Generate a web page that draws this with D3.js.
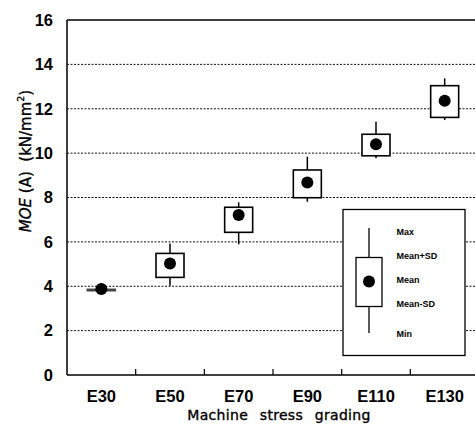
<!DOCTYPE html>
<html>
<head>
<meta charset="utf-8">
<script src="https://cdn.jsdelivr.net/npm/d3@7"></script>
<style>
  html, body { margin: 0; padding: 0; background: #fff; }
  svg { display: block; }
</style>
</head>
<body>
<svg id="chart" width="475" height="435"></svg>
<script>
// MOE (A) by machine stress grade: min, mean-SD, mean, mean+SD, max
const categories = ["E30", "E50", "E70", "E90", "E110", "E130"];
const minVals    = [3.78, 4.02, 5.89, 7.81, 9.77, 11.49];
const sdLowVals  = [3.80, 4.40, 6.43, 7.99, 9.88, 11.61];
const meanVals   = [3.88, 5.03, 7.21, 8.68, 10.40, 12.36];
const sdHighVals = [3.86, 5.48, 7.56, 9.24, 10.85, 13.04];
const maxVals    = [3.90, 5.93, 7.78, 9.84, 11.41, 13.37];
const yTicks     = [0, 2, 4, 6, 8, 10, 12, 14, 16];
const legendLabels = ["Max", "Mean+SD", "Mean", "Mean-SD", "Min"];

const rows = categories.map((c, i) => ({
  cat: c, min: minVals[i], lo: sdLowVals[i], mean: meanVals[i],
  hi: sdHighVals[i], max: maxVals[i]
}));

const svg = d3.select("#chart");
const plotL = 67, plotR = 479, plotT = 20, plotB = 375;
const tickFont = "'Liberation Sans', Arial, sans-serif";
const titleFont = "'DejaVu Sans', sans-serif";

const x = d3.scaleBand().domain(categories).range([plotL, plotR]);
const y = d3.scaleLinear().domain([0, 16]).range([plotB, plotT]);

// dashed grid lines
svg.append("g")
  .selectAll("line")
  .data(yTicks.filter(t => t > 0 && t < 16))
  .join("line")
  .attr("x1", plotL).attr("x2", 475)
  .attr("y1", d => y(d)).attr("y2", d => y(d))
  .attr("stroke", "#111")
  .attr("stroke-width", 1)
  .attr("stroke-dasharray", "2,1.5");

// y axis labels
const yAxis = svg.append("g")
  .attr("transform", `translate(${plotL},0)`)
  .call(d3.axisLeft(y).tickValues(yTicks).tickSize(0).tickPadding(14).tickFormat(d3.format("d")));
yAxis.select(".domain").remove();
yAxis.selectAll("text")
  .attr("font-family", tickFont)
  .attr("font-weight", "bold")
  .attr("font-size", 16.5)
  .attr("fill", "#000");

// x axis labels
const xAxis = svg.append("g")
  .attr("transform", `translate(0,${plotB})`)
  .call(d3.axisBottom(x).tickSize(0).tickPadding(15));
xAxis.select(".domain").remove();
xAxis.selectAll("text")
  .attr("font-family", tickFont)
  .attr("font-weight", "bold")
  .attr("font-size", 16.5)
  .attr("fill", "#000");

// frame: left, bottom and top lines
const frame = svg.append("g").attr("stroke", "#000").attr("stroke-width", 1.5);
frame.append("line").attr("x1", plotL).attr("x2", plotL).attr("y1", plotT).attr("y2", plotB);
frame.append("line").attr("x1", plotL).attr("x2", 475).attr("y1", plotB).attr("y2", plotB);
frame.append("line").attr("x1", plotL).attr("x2", 475).attr("y1", plotT).attr("y2", plotT);

// inner ticks at the category boundaries
svg.append("g")
  .selectAll("line")
  .data(categories.slice(1))
  .join("line")
  .attr("x1", d => x(d)).attr("x2", d => x(d))
  .attr("y1", plotB).attr("y2", plotB - 6)
  .attr("stroke", "#000").attr("stroke-width", 1.2);

// box plots
const boxW = 28;
const g = svg.append("g");
const item = g.selectAll("g.item").data(rows).join("g").attr("class", "item");
item.append("line")
  .attr("x1", d => x(d.cat) + x.bandwidth() / 2).attr("x2", d => x(d.cat) + x.bandwidth() / 2)
  .attr("y1", d => y(d.max)).attr("y2", d => y(d.min))
  .attr("stroke", "#000").attr("stroke-width", 1.5);
item.append("rect")
  .attr("x", d => x(d.cat) + x.bandwidth() / 2 - boxW / 2)
  .attr("width", boxW)
  .attr("y", d => y(Math.max(d.hi, d.lo)))
  .attr("height", d => Math.abs(y(d.lo) - y(d.hi)))
  .attr("fill", d => Math.abs(y(d.lo) - y(d.hi)) < 3 ? "#777" : "#fff")
  .attr("stroke", d => Math.abs(y(d.lo) - y(d.hi)) < 3 ? "#444" : "#000")
  .attr("stroke-width", 1.6);
item.append("circle")
  .attr("cx", d => x(d.cat) + x.bandwidth() / 2)
  .attr("cy", d => y(d.mean))
  .attr("r", 6)
  .attr("fill", "#000");

// legend
const lg = svg.append("g");
lg.append("rect")
  .attr("x", 343).attr("y", 209.5).attr("width", 122).attr("height", 146)
  .attr("fill", "#fff").attr("stroke", "#000").attr("stroke-width", 1.3);
lg.append("line").attr("x1", 369).attr("x2", 369).attr("y1", 228).attr("y2", 333)
  .attr("stroke", "#000").attr("stroke-width", 1.3);
lg.append("rect").attr("x", 356).attr("y", 257.5).attr("width", 26).attr("height", 49)
  .attr("fill", "#fff").attr("stroke", "#000").attr("stroke-width", 1.3);
lg.append("circle").attr("cx", 369).attr("cy", 281.5).attr("r", 6).attr("fill", "#000");
const legendY = [231.5, 255.5, 280, 303.5, 334];
lg.selectAll("text")
  .data(legendLabels)
  .join("text")
  .attr("x", 396.5)
  .attr("y", (d, i) => legendY[i])
  .attr("dy", "0.35em")
  .attr("font-family", tickFont)
  .attr("font-weight", "bold")
  .attr("font-size", 9)
  .attr("fill", "#000")
  .text(d => d);

// axis titles (slightly heavier than regular weight)
svg.append("text")
  .attr("x", 279)
  .attr("y", 420)
  .attr("text-anchor", "middle")
  .attr("font-family", titleFont)
  .attr("font-size", 14)
  .attr("word-spacing", 7)
  .attr("letter-spacing", 0.3)
  .attr("fill", "#000")
  .attr("stroke", "#000")
  .attr("stroke-width", 0.35)
  .text("Machine stress grading");

const yt = svg.append("text")
  .attr("transform", "translate(31,161) rotate(-90)")
  .attr("text-anchor", "middle")
  .attr("font-family", titleFont)
  .attr("font-size", 15)
  .attr("fill", "#000")
  .attr("stroke", "#000")
  .attr("stroke-width", 0.35);
yt.append("tspan").attr("font-style", "italic").text("MOE");
yt.append("tspan").text(" (A)\u00a0\u00a0(kN/mm");
yt.append("tspan").attr("font-size", 9.5).attr("dy", -7).text("2");
yt.append("tspan").attr("dy", 7).text(")");
</script>
</body>
</html>
